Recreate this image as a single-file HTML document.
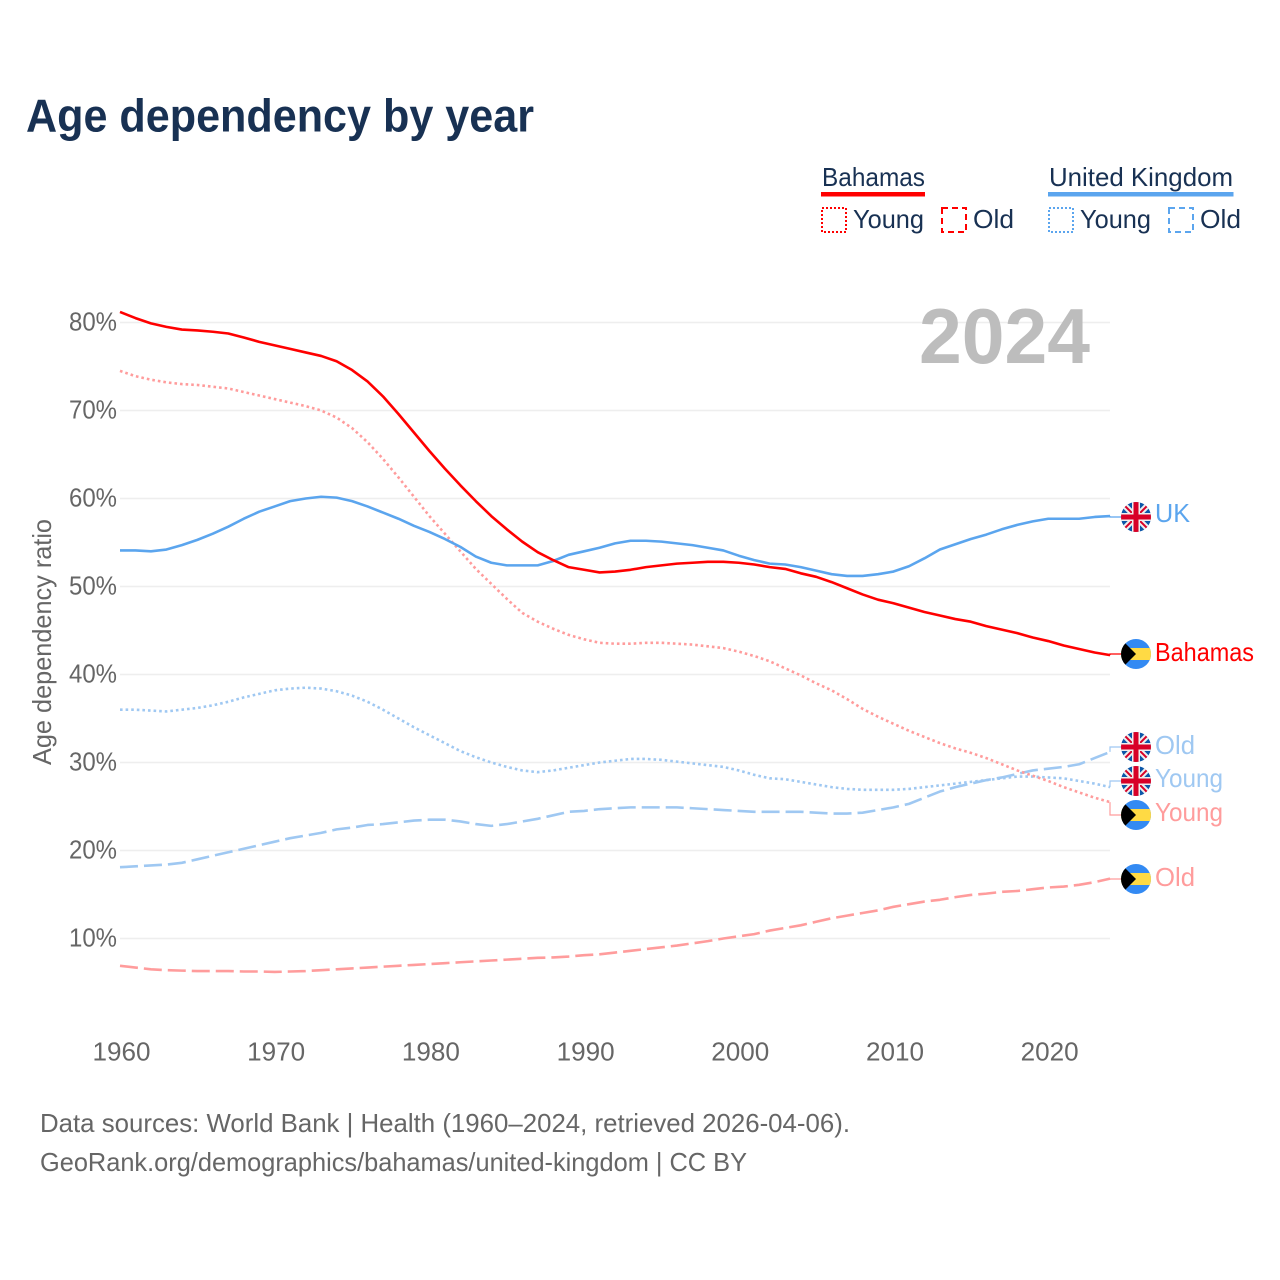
<!DOCTYPE html>
<html lang="en">
<head>
<meta charset="utf-8">
<title>Age dependency by year</title>
<style>
html,body{margin:0;padding:0;background:#fff;}
svg{display:block;font-family:"Liberation Sans",sans-serif;}
</style>
</head>
<body>
<svg id="chart" width="1280" height="1280" viewBox="0 0 1280 1280" xmlns="http://www.w3.org/2000/svg">
  <defs>
    <clipPath id="flag-clip"><circle cx="0" cy="0" r="15"/></clipPath>
    <g id="flag-uk" clip-path="url(#flag-clip)">
      <rect x="-15" y="-15" width="30" height="30" fill="#0b56a8"/>
      <path d="M-15,-15L15,15M15,-15L-15,15" stroke="#eee" stroke-width="6"/>
      <path d="M-15,-15L15,15M15,-15L-15,15" stroke="#d80027" stroke-width="2"/>
      <path d="M0,-15V15M-15,0H15" stroke="#eee" stroke-width="8"/>
      <path d="M0,-15V15M-15,0H15" stroke="#d80027" stroke-width="5"/>
    </g>
    <g id="flag-bs" clip-path="url(#flag-clip)">
      <rect x="-15" y="-15" width="30" height="30" fill="#338af3"/>
      <rect x="-15" y="-6" width="30" height="12" fill="#ffda44"/>
      <path d="M-15,-15L0,0L-15,15Z" fill="#000"/>
    </g>
  </defs>

  <text x="26" y="131.500" font-size="46" font-weight="700" fill="#183153" textLength="508" lengthAdjust="spacingAndGlyphs">Age dependency by year</text>

  <g font-size="26" fill="#183153">
    <text x="822" y="186" textLength="103" lengthAdjust="spacingAndGlyphs">Bahamas</text>
    <rect x="821" y="192" width="104" height="4.5" fill="#ff0000"/>
    <rect x="822" y="208" width="24" height="24" fill="none" stroke="#ff0000" stroke-width="2" stroke-dasharray="2 2"/>
    <text x="853" y="228" textLength="71" lengthAdjust="spacingAndGlyphs">Young</text>
    <rect x="942" y="208" width="24" height="24" fill="none" stroke="#ff0000" stroke-width="2" stroke-dasharray="6 4"/>
    <text x="973" y="228" textLength="41" lengthAdjust="spacingAndGlyphs">Old</text>
    <text x="1049" y="186" textLength="184" lengthAdjust="spacingAndGlyphs">United Kingdom</text>
    <rect x="1048" y="192" width="185.500" height="4.5" fill="#5ba5ee"/>
    <rect x="1049" y="208" width="24" height="24" fill="none" stroke="#5ba5ee" stroke-width="2" stroke-dasharray="2 2"/>
    <text x="1080" y="228" textLength="71" lengthAdjust="spacingAndGlyphs">Young</text>
    <rect x="1169" y="208" width="24" height="24" fill="none" stroke="#5ba5ee" stroke-width="2" stroke-dasharray="6 4"/>
    <text x="1200" y="228" textLength="41" lengthAdjust="spacingAndGlyphs">Old</text>
  </g>

  <g id="grid"></g>
  <g id="yticks" font-size="26" fill="#666"></g>
  <g id="xticks" font-size="26" fill="#666"></g>

  <text transform="translate(51,765) rotate(-90)" font-size="26" fill="#666" textLength="246" lengthAdjust="spacingAndGlyphs">Age dependency ratio</text>

  <text x="919" y="363" font-size="78" font-weight="700" fill="#bdbdbd" textLength="171" lengthAdjust="spacingAndGlyphs">2024</text>

  <g id="series" fill="none"></g>
  <g id="endlabels" font-size="26"></g>

  <text x="40" y="1132" font-size="26" fill="#666" textLength="810" lengthAdjust="spacingAndGlyphs">Data sources: World Bank | Health (1960–2024, retrieved 2026-04-06).</text>
  <text x="40" y="1171" font-size="26" fill="#666" textLength="707" lengthAdjust="spacingAndGlyphs">GeoRank.org/demographics/bahamas/united-kingdom | CC BY</text>
</svg>

<script>
const startYear = 1960;
const yTickValues = [10, 20, 30, 40, 50, 60, 70, 80];
const xTickYears = [1960, 1970, 1980, 1990, 2000, 2010, 2020];

const bahamasTotal = [81.2,80.5,79.9,79.5,79.2,79.1,78.95,78.75,78.3,77.8,77.4,77.0,76.6,76.2,75.6,74.6,73.3,71.6,69.6,67.5,65.4,63.4,61.5,59.7,58.0,56.5,55.1,53.9,53.0,52.2,51.9,51.6,51.7,51.9,52.2,52.4,52.6,52.7,52.8,52.8,52.7,52.5,52.2,52.0,51.5,51.1,50.5,49.8,49.1,48.5,48.1,47.6,47.1,46.7,46.3,46.0,45.5,45.1,44.7,44.2,43.8,43.3,42.9,42.5,42.2];
const bahamasYoung = [74.5,73.9,73.5,73.2,73.0,72.9,72.7,72.5,72.1,71.7,71.3,70.9,70.5,70.0,69.2,68.0,66.4,64.5,62.4,60.2,58.0,56.0,54.0,52.0,50.3,48.6,47.0,46.0,45.2,44.5,44.0,43.6,43.5,43.5,43.6,43.6,43.5,43.4,43.2,43.0,42.6,42.1,41.5,40.7,39.9,39.0,38.2,37.2,36.1,35.2,34.4,33.6,32.9,32.2,31.6,31.1,30.5,29.8,29.1,28.5,27.9,27.2,26.6,26.0,25.5];
const bahamasOld = [6.9,6.7,6.5,6.4,6.35,6.3,6.3,6.3,6.25,6.25,6.2,6.25,6.3,6.4,6.5,6.6,6.7,6.8,6.9,7.0,7.1,7.2,7.3,7.4,7.5,7.6,7.7,7.8,7.85,7.95,8.1,8.2,8.4,8.6,8.8,9.0,9.2,9.45,9.7,10.0,10.25,10.5,10.9,11.2,11.5,11.9,12.3,12.6,12.9,13.2,13.6,13.9,14.2,14.4,14.7,14.95,15.1,15.3,15.4,15.6,15.8,15.9,16.1,16.4,16.8];
const ukTotal = [54.1,54.1,54.0,54.2,54.7,55.3,56.0,56.8,57.7,58.5,59.1,59.7,60.0,60.2,60.1,59.7,59.1,58.4,57.7,56.9,56.2,55.4,54.5,53.4,52.7,52.4,52.4,52.4,52.9,53.6,54.0,54.4,54.9,55.2,55.2,55.1,54.9,54.7,54.4,54.1,53.5,53.0,52.6,52.5,52.2,51.8,51.4,51.2,51.2,51.4,51.7,52.3,53.2,54.2,54.8,55.4,55.9,56.5,57.0,57.4,57.7,57.7,57.7,57.9,58.0];
const ukYoung = [36.0,36.0,35.9,35.8,36.0,36.2,36.5,36.9,37.4,37.8,38.2,38.4,38.5,38.4,38.1,37.6,36.9,36.0,35.0,34.0,33.1,32.2,31.3,30.6,30.0,29.5,29.1,28.9,29.1,29.4,29.7,30.0,30.2,30.4,30.4,30.3,30.1,29.9,29.7,29.5,29.1,28.6,28.2,28.1,27.8,27.5,27.2,27.0,26.9,26.9,26.9,27.0,27.2,27.4,27.6,27.8,28.0,28.2,28.4,28.4,28.3,28.2,27.9,27.6,27.2];
const ukOld = [18.1,18.2,18.3,18.4,18.6,19.0,19.4,19.8,20.2,20.6,21.0,21.4,21.7,22.0,22.4,22.6,22.9,23.0,23.2,23.4,23.5,23.5,23.3,23.0,22.8,23.0,23.3,23.6,24.0,24.4,24.5,24.7,24.8,24.9,24.9,24.9,24.9,24.8,24.7,24.6,24.5,24.4,24.4,24.4,24.4,24.3,24.2,24.2,24.3,24.6,24.9,25.3,26.0,26.7,27.2,27.6,28.0,28.3,28.7,29.1,29.3,29.5,29.8,30.5,31.2];

const NS = 'http://www.w3.org/2000/svg';
const RED = '#ff0000', BLUE = '#5ba5ee', LRED = '#ff9c9c', LBLUE = '#9fc8f2';

function xScale(year) { return 120 + (year - startYear) * 15.47; }
function yScale(value) { return 322.5 + (80 - value) * 8.8; }
function make(tag, attrs, parent) {
  const el = document.createElementNS(NS, tag);
  for (const k in attrs) el.setAttribute(k, attrs[k]);
  parent.appendChild(el);
  return el;
}

const gridG = document.getElementById('grid');
const yG = document.getElementById('yticks');
yTickValues.forEach(function (v) {
  const line = make('line', { x1: 120, x2: 1110, y1: yScale(v), y2: yScale(v), stroke: '#eeeeee', 'stroke-width': 1.6 }, gridG);
  
  
  const t = make('text', { x: 117, y: yScale(v) + 8, 'text-anchor': 'end', textLength: 48, lengthAdjust: 'spacingAndGlyphs' }, yG);
  t.textContent = v + '%';
  
  
});

const xG = document.getElementById('xticks');
xTickYears.forEach(function (y) {
  const t = make('text', { x: xScale(y) + 1.5, y: 1060.5, 'text-anchor': 'middle', textLength: 58, lengthAdjust: 'spacingAndGlyphs' }, xG);
  t.textContent = y;
  
  
});

function pathFor(values) {
  return values.map(function (v, i) {
    return (i ? 'L' : 'M') + xScale(startYear + i).toFixed(2) + ',' + yScale(v).toFixed(2);
  }).join('');
}
function lastY(values) { return yScale(values[values.length - 1]); }

const seriesG = document.getElementById('series');
const endG = document.getElementById('endlabels');

function drawSeries(values, color, dash, name) {
  const p = make('path', { d: pathFor(values), stroke: color, 'stroke-width': 2.6, 'stroke-linejoin': 'round' }, seriesG);
  if (dash) p.setAttribute('stroke-dasharray', dash);
  
  
}
drawSeries(ukOld, LBLUE, '18 6', 'uk-old-line');
drawSeries(ukYoung, LBLUE, '2.6 3', 'uk-young-line');
drawSeries(bahamasOld, LRED, '18 6', 'bahamas-old-line');
drawSeries(bahamasYoung, LRED, '2.6 3', 'bahamas-young-line');
drawSeries(ukTotal, BLUE, '', 'uk-total-line');
drawSeries(bahamasTotal, RED, '', 'bahamas-total-line');

function endLabel(values, labelY, textDy, text, width, color, flag, name) {
  const ey = lastY(values);
  const c = make('path', { d: 'M1110,' + ey.toFixed(1) + 'V' + labelY + 'H1121', fill: 'none', stroke: color, 'stroke-width': 1.2 }, endG);
  
  
  const f = make('use', { href: '#' + flag, transform: 'translate(1136,' + labelY + ')' }, endG);
  
  
  const t = make('text', { x: 1155, y: labelY + textDy, fill: color, textLength: width, lengthAdjust: 'spacingAndGlyphs' }, endG);
  t.textContent = text;
  
  
}
endLabel(ukTotal, 517, 5, 'UK', 35, BLUE, 'flag-uk', 'uk-total');
endLabel(bahamasTotal, 654, 7, 'Bahamas', 99, RED, 'flag-bs', 'bahamas-total');
endLabel(ukOld, 747, 7, 'Old', 40, LBLUE, 'flag-uk', 'uk-old');
endLabel(ukYoung, 781, 6, 'Young', 68, LBLUE, 'flag-uk', 'uk-young');
endLabel(bahamasYoung, 815, 6, 'Young', 68, LRED, 'flag-bs', 'bahamas-young');
endLabel(bahamasOld, 879, 7, 'Old', 40, LRED, 'flag-bs', 'bahamas-old');
</script>
</body>
</html>
